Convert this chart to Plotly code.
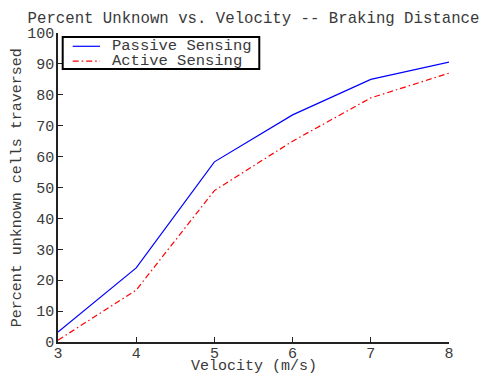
import plotly.graph_objects as go

velocity = [3, 4, 5, 6, 7, 8]
passive = [3.2, 24.0, 58.3, 73.5, 85.0, 90.6]
active = [0.6, 16.8, 49.0, 65.0, 79.0, 87.0]
series_names = ["Passive Sensing", "Active Sensing"]
series_colors = ["blue", "red"]
series_dash = ["solid", "6px,3px,1.5px,3px"]

FONT = "Nimbus Mono PS, Courier New, FreeMono, Liberation Mono, monospace"
TXT = "#3a3a3a"

fig = go.Figure()
for yv, nm, col, ds in zip([passive, active], series_names, series_colors, series_dash):
    fig.add_trace(go.Scatter(x=velocity, y=yv, mode="lines", name=nm,
                             line=dict(color=col, width=1.2, dash=ds), showlegend=False))

# Legend drawn MATLAB-style inside the axes
fig.add_shape(type="rect", xref="paper", yref="paper", x0=0.0120, x1=0.5148, y0=0.8836, y1=0.9873,
              line=dict(color="black", width=2), fillcolor="white", layer="above")
leg_y = [0.957, 0.909]
for ly, nm, col, ds in zip(leg_y, series_names, series_colors, series_dash):
    fig.add_shape(type="line", xref="paper", yref="paper", x0=0.0376, x1=0.1074, y0=ly, y1=ly,
                  line=dict(color=col, width=1.2, dash=ds), layer="above")
    fig.add_annotation(xref="paper", yref="paper", x=0.133, y=ly, xanchor="left", yanchor="middle",
                       text=nm, showarrow=False, font=dict(family=FONT, size=15.5, color=TXT))

# Axis titles
fig.add_annotation(xref="paper", yref="paper", x=0.5, y=-0.08, xanchor="center", yanchor="middle",
                   text="Velocity (m/s)", showarrow=False, font=dict(family=FONT, size=15, color=TXT))
fig.add_annotation(xref="paper", yref="paper", x=-0.103, y=0.5, xanchor="center", yanchor="middle",
                   text="Percent unknown cells traversed", textangle=-90, showarrow=False,
                   font=dict(family=FONT, size=15, color=TXT))

fig.update_layout(
    width=484, height=374,
    margin=dict(l=58, r=35, t=33, b=32),
    paper_bgcolor="white", plot_bgcolor="white",
    font=dict(family=FONT, size=15, color=TXT),
    title=dict(text="Percent Unknown vs. Velocity -- Braking Distance",
               x=0.5, xref="paper", xanchor="center", y=0.952, yanchor="middle",
               font=dict(family=FONT, size=15.7, color=TXT)),
    showlegend=False,
)
fig.update_xaxes(range=[3, 8], tickmode="array", tickvals=velocity, automargin=False,
                 showgrid=False, zeroline=False, showline=True, linecolor="#222", linewidth=1.5,
                 ticks="inside", ticklen=5, tickcolor="#222", ticklabelstandoff=-4,
                 tickfont=dict(family=FONT, size=15, color=TXT))
fig.update_yaxes(range=[0, 100], tickmode="linear", tick0=0, dtick=10, automargin=False,
                 showgrid=False, zeroline=False, showline=True, linecolor="#222", linewidth=1.5,
                 ticks="inside", ticklen=5, tickcolor="#222", ticklabelstandoff=-1,
                 tickfont=dict(family=FONT, size=15, color=TXT))

fig.write_html("out.html", config={"displayModeBar": False},
               post_script="document.body.style.margin='0';document.body.style.padding='0';")
